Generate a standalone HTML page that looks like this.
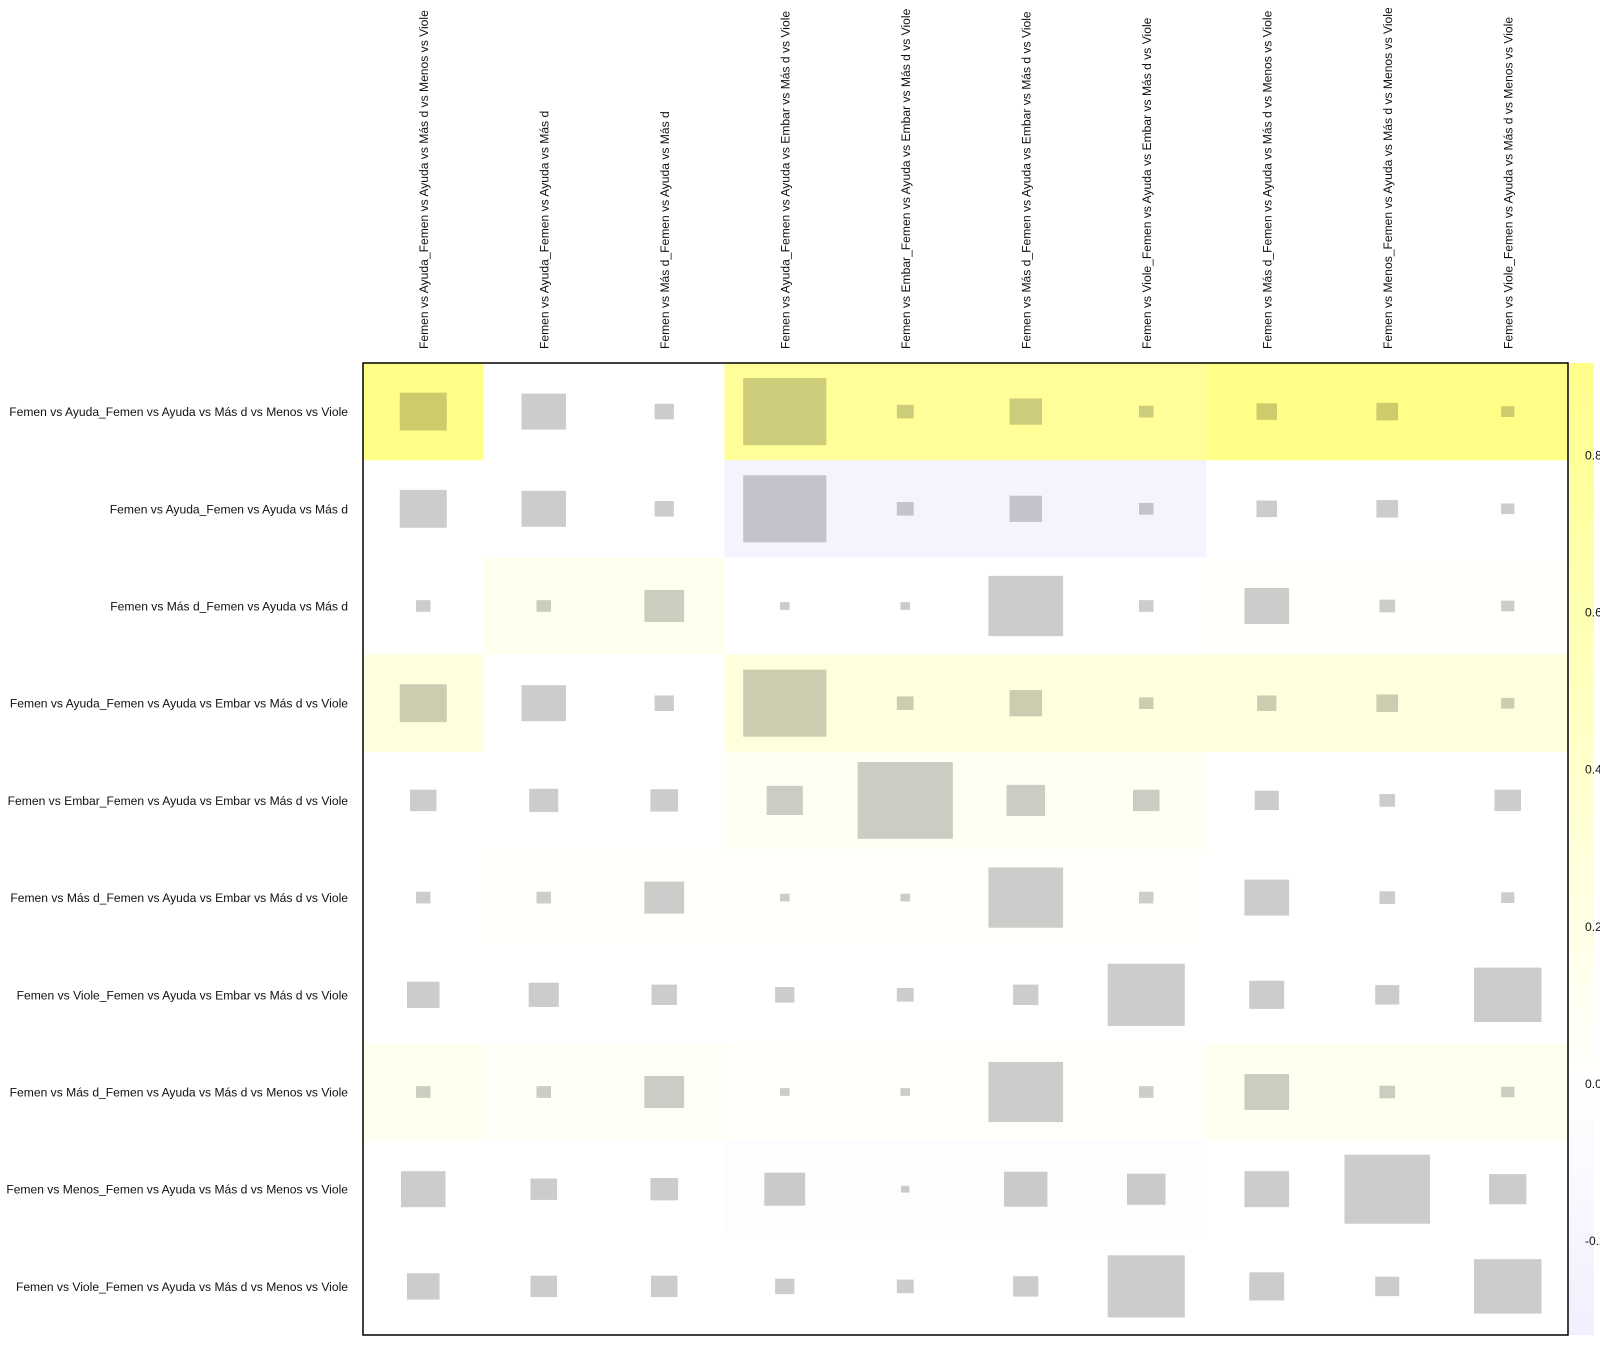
<!DOCTYPE html>
<html><head><meta charset="utf-8">
<style>
html,body{margin:0;padding:0;background:#fff;width:1600px;height:1350px;overflow:hidden}
svg{display:block}
text{font-family:"Liberation Sans",Arial,sans-serif;font-size:12.1px;fill:#111}
</style></head>
<body>
<svg id="chart" width="1600" height="1350" viewBox="0 0 1600 1350" xmlns="http://www.w3.org/2000/svg">
<defs><linearGradient id="cbgrad" x1="0" y1="0" x2="0" y2="1"></linearGradient></defs>
<g id="cells"></g>
<g id="marks"></g>
<rect x="363" y="363" width="1205" height="972" fill="none" stroke="#000" stroke-width="1.5"/>
<rect x="1569" y="363" width="25" height="972" fill="url(#cbgrad)"/>
<g id="rowlabels"></g>
<g id="collabels"></g>
<g id="cbticks"></g>
</svg>
<script>
const rowLabels = [
 "Femen vs Ayuda_Femen vs Ayuda vs Más d vs Menos vs Viole",
 "Femen vs Ayuda_Femen vs Ayuda vs Más d",
 "Femen vs Más d_Femen vs Ayuda vs Más d",
 "Femen vs Ayuda_Femen vs Ayuda vs Embar vs Más d vs Viole",
 "Femen vs Embar_Femen vs Ayuda vs Embar vs Más d vs Viole",
 "Femen vs Más d_Femen vs Ayuda vs Embar vs Más d vs Viole",
 "Femen vs Viole_Femen vs Ayuda vs Embar vs Más d vs Viole",
 "Femen vs Más d_Femen vs Ayuda vs Más d vs Menos vs Viole",
 "Femen vs Menos_Femen vs Ayuda vs Más d vs Menos vs Viole",
 "Femen vs Viole_Femen vs Ayuda vs Más d vs Menos vs Viole"
];
const colLabels = [
 "Femen vs Ayuda_Femen vs Ayuda vs Más d vs Menos vs Viole",
 "Femen vs Ayuda_Femen vs Ayuda vs Más d",
 "Femen vs Más d_Femen vs Ayuda vs Más d",
 "Femen vs Ayuda_Femen vs Ayuda vs Embar vs Más d vs Viole",
 "Femen vs Embar_Femen vs Ayuda vs Embar vs Más d vs Viole",
 "Femen vs Más d_Femen vs Ayuda vs Embar vs Más d vs Viole",
 "Femen vs Viole_Femen vs Ayuda vs Embar vs Más d vs Viole",
 "Femen vs Más d_Femen vs Ayuda vs Más d vs Menos vs Viole",
 "Femen vs Menos_Femen vs Ayuda vs Más d vs Menos vs Viole",
 "Femen vs Viole_Femen vs Ayuda vs Más d vs Menos vs Viole"
];
const cellValues = [
 [0.94,0,0,0.8,0.8,0.8,0.8,0.94,0.94,0.94],
 [0,0,0,-0.23,-0.23,-0.23,-0.23,0,0,0],
 [0.01,0.13,0.13,0,0,0,0,0.02,0.02,0.02],
 [0.26,0,0,0.26,0.26,0.26,0.26,0.26,0.26,0.26],
 [0,0,0,0.09,0.09,0.09,0.09,0,0,0],
 [0,0.02,0.02,0.02,0.02,0.02,0.02,0,0,0],
 [0,0,0,0,0,0,0,0,0,0],
 [0.12,0.06,0.06,0.02,0.02,0.02,0.02,0.12,0.12,0.12],
 [0.01,0,0,-0.05,-0.05,-0.05,-0.05,0.01,0.01,0.01],
 [0.01,0,0,0,0,0,0,0,0,0]
];
const squareSizes = [
 [0.39,0.37,0.16,0.69,0.14,0.27,0.12,0.17,0.18,0.11],
 [0.39,0.37,0.16,0.69,0.14,0.27,0.12,0.17,0.18,0.11],
 [0.12,0.12,0.33,0.08,0.08,0.62,0.12,0.37,0.13,0.11],
 [0.39,0.37,0.16,0.69,0.14,0.27,0.12,0.16,0.18,0.11],
 [0.22,0.24,0.23,0.30,0.79,0.32,0.22,0.20,0.13,0.22],
 [0.12,0.12,0.33,0.08,0.08,0.62,0.12,0.37,0.13,0.11],
 [0.27,0.25,0.21,0.16,0.14,0.21,0.64,0.29,0.20,0.56],
 [0.12,0.12,0.33,0.08,0.08,0.62,0.12,0.37,0.13,0.11],
 [0.37,0.22,0.23,0.34,0.07,0.36,0.32,0.37,0.71,0.31],
 [0.27,0.22,0.22,0.16,0.14,0.21,0.64,0.29,0.20,0.56]
];
const cbTicks = [0.8,0.6,0.4,0.2,0.0,-0.2];
const cbTickLabels = ["0.8","0.6","0.4","0.2","0.0","-0.2"];

const NS="http://www.w3.org/2000/svg";
const X0=363,Y0=363,W=1205,H=972,N=10;
const cw=W/N, ch=H/N;
const xPos=i=>X0+cw*i, yPos=j=>Y0+ch*j;
const cbTop=0.917, cbBot=-0.32, cbY0=363, cbH=972;
const cbScale=v=>cbY0+(cbTop-v)/(cbTop-cbBot)*cbH;
function rgb(v){
  let r=255,g=255,b=255;
  if(v>=0){const t=Math.min(1,v*0.5); b=255*(1-t);}
  else{const t=Math.min(1,-v*0.19); r=255*(1-t); g=r;}
  return [r,g,b];
}
const css=c=>`rgb(${c.map(x=>Math.round(x)).join(',')})`;
function mk(tag,attrs,parent){const e=document.createElementNS(NS,tag);for(const k in attrs)e.setAttribute(k,attrs[k]);parent.appendChild(e);return e;}

const cells=document.getElementById('cells'), marks=document.getElementById('marks');
for(let j=0;j<N;j++)for(let i=0;i<N;i++){
  const c=rgb(cellValues[j][i]);
  const r=mk('rect',{x:xPos(i),y:yPos(j),width:cw+0.5,height:ch+0.5,fill:css(c)},cells);
  
  
  const s=squareSizes[j][i], w=s*cw, h=s*ch;
  const q=mk('rect',{x:xPos(i)+cw/2-w/2,y:yPos(j)+ch/2-h/2,width:w,height:h,fill:css(c.map(x=>x*0.8))},marks);
  
  
}
const rl=document.getElementById('rowlabels');
rowLabels.forEach((t,j)=>{
  const e=mk('text',{x:348,y:yPos(j)+ch/2+4.5,'text-anchor':'end'},rl);
  e.textContent=t;
  
  
});
const cl=document.getElementById('collabels');
colLabels.forEach((t,i)=>{
  const x=xPos(i)+cw/2+4.5;
  const e=mk('text',{x:x,y:349,transform:`rotate(-90 ${x} 349)`},cl);
  e.textContent=t;
  
  
});
const g=document.getElementById('cbgrad');
for(let k=0;k<=40;k++){
  const v=cbTop-(cbTop-cbBot)*k/40;
  mk('stop',{offset:(k/40*100)+'%','stop-color':css(rgb(v))},g);
}
const cbt=document.getElementById('cbticks');
cbTicks.forEach((v,k)=>{
  const e=mk('text',{x:1585,y:cbScale(v)+4.5},cbt);
  e.textContent=cbTickLabels[k];
  
  
});
</script>
</body></html>
